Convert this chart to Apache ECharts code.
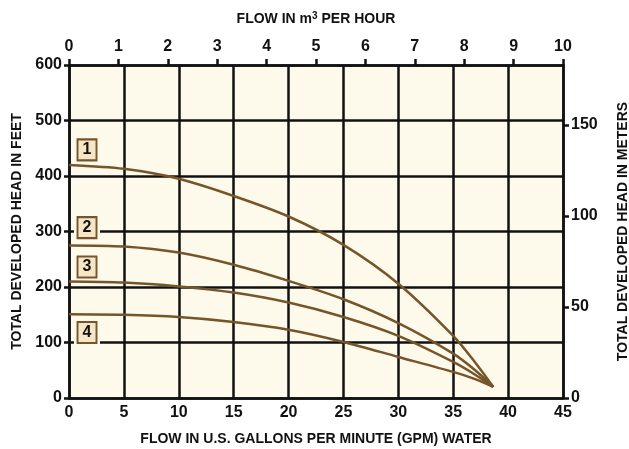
<!DOCTYPE html>
<html>
<head>
<meta charset="utf-8">
<script src="https://cdn.jsdelivr.net/npm/echarts@6/dist/echarts.min.js"></script>
<style>html,body{margin:0;padding:0;background:#fff}#chart{width:629px;height:449px}</style>
</head>
<body>
<div id="chart"></div>
<script>
// flow in GPM and developed head in feet
var gpm = [0, 5, 10, 15, 20, 25, 30, 35, 37, 38.65];
var pump1 = [420, 413, 395, 364, 327, 276, 206, 112, 64, 20];
var pump2 = [275, 273, 262, 240, 211, 178, 135, 80, 50, 20];
var pump3 = [210, 208, 201, 190, 172, 146, 112, 65, 42, 20];
var pump4 = [151, 150, 146, 137, 123, 101, 74, 47, 34, 20];
var curveNames = ['1', '2', '3', '4'];
// where the number boxes sit (gpm, feet)
var boxPos = [[1.64, 447], [1.64, 307], [1.64, 236], [1.64, 118]];

var fontFam = '"Liberation Sans", Arial, sans-serif';
var brown = '#76552A';
var curves = [pump1, pump2, pump3, pump4];

var mkSeries = function (vals, i) {
    var pts = [];
    for (var k = 0; k < gpm.length; k++) {
        pts.push([gpm[k], vals[k]]);
    }
    return {
        name: curveNames[i],
        type: 'line',
        smooth: 0.3,
        showSymbol: false,
        symbol: 'none',
        xAxisIndex: 0,
        yAxisIndex: 0,
        data: pts,
        lineStyle: { color: brown, width: 2.5 },
        z: 5,
        markPoint: {
            silent: true,
            animation: false,
            data: [
                {
                    coord: boxPos[i], symbol: 'rect', symbolSize: [26, 28],
                    itemStyle: { color: '#FEFAEB', borderWidth: 0 }, label: { show: false }
                },
                {
                    coord: boxPos[i], symbol: 'rect', symbolSize: [19, 21],
                    itemStyle: { color: '#F6E6C6', borderColor: brown, borderWidth: 2 },
                    label: { show: true, formatter: curveNames[i], color: '#111', fontSize: 16, fontWeight: 'bold', fontFamily: fontFam }
                }
            ]
        }
    };
};

var seriesList = [];
for (var i = 0; i < curves.length; i++) {
    seriesList.push(mkSeries(curves[i], i));
}

var lineBlack = { color: '#111', width: 2.5 };
var labelStyle = { color: '#111', fontSize: 16, fontWeight: 'bold', fontFamily: fontFam };
var nameStyle = { color: '#111', fontSize: 14, fontWeight: 'bold', fontFamily: fontFam };

var myChart = echarts.init(document.getElementById('chart'));
var option = {
    animation: false,
    backgroundColor: '#fff',
    grid: {
        left: 69, right: 66, top: 65, bottom: 51,
        outerBoundsMode: 'none',
        containLabel: false,
        show: true, backgroundColor: '#FEFAEB', borderWidth: 0
    },
    xAxis: [
        {
            type: 'value', position: 'bottom', min: 0, max: 45, interval: 5,
            name: 'FLOW IN U.S. GALLONS PER MINUTE (GPM) WATER',
            nameLocation: 'middle', nameGap: 34, nameTextStyle: nameStyle,
            axisLine: { show: true, onZero: false, lineStyle: lineBlack },
            axisTick: { show: false },
            axisLabel: Object.assign({ margin: 7 }, labelStyle),
            splitLine: { show: true, lineStyle: lineBlack }
        },
        {
            type: 'value', position: 'top', min: 0, max: 10, interval: 1,
            name: 'FLOW IN m{sup|3} PER HOUR',
            nameLocation: 'middle', nameGap: 37,
            nameTextStyle: Object.assign({
                rich: { sup: { fontSize: 10, fontWeight: 'bold', fontFamily: fontFam, color: '#111', verticalAlign: 'top', padding: [0, 0, 7, 0] } }
            }, nameStyle),
            axisLine: { show: true, onZero: false, lineStyle: lineBlack },
            axisTick: { show: true, length: 6, lineStyle: lineBlack },
            axisLabel: Object.assign({ margin: 10 }, labelStyle),
            splitLine: { show: false }
        }
    ],
    yAxis: [
        {
            type: 'value', position: 'left', min: 0, max: 600, interval: 100,
            name: 'TOTAL DEVELOPED HEAD IN FEET',
            nameLocation: 'middle', nameGap: 41, nameTextStyle: nameStyle,
            axisLine: { show: true, onZero: false, lineStyle: lineBlack },
            axisTick: { show: true, length: 5, lineStyle: lineBlack },
            axisLabel: Object.assign({ margin: 7 }, labelStyle),
            splitLine: { show: true, lineStyle: lineBlack }
        },
        {
            type: 'value', position: 'right', min: 0, max: 182.88, interval: 50,
            name: 'TOTAL DEVELOPED HEAD IN METERS',
            nameLocation: 'middle', nameGap: 53, nameTextStyle: nameStyle,
            axisLine: { show: true, onZero: false, lineStyle: lineBlack },
            axisTick: { show: true, length: 6, lineStyle: lineBlack },
            axisLabel: Object.assign({ margin: 8, showMaxLabel: false }, labelStyle),
            splitLine: { show: false }
        }
    ],
    series: seriesList
};
myChart.setOption(option);
</script>
</body>
</html>
